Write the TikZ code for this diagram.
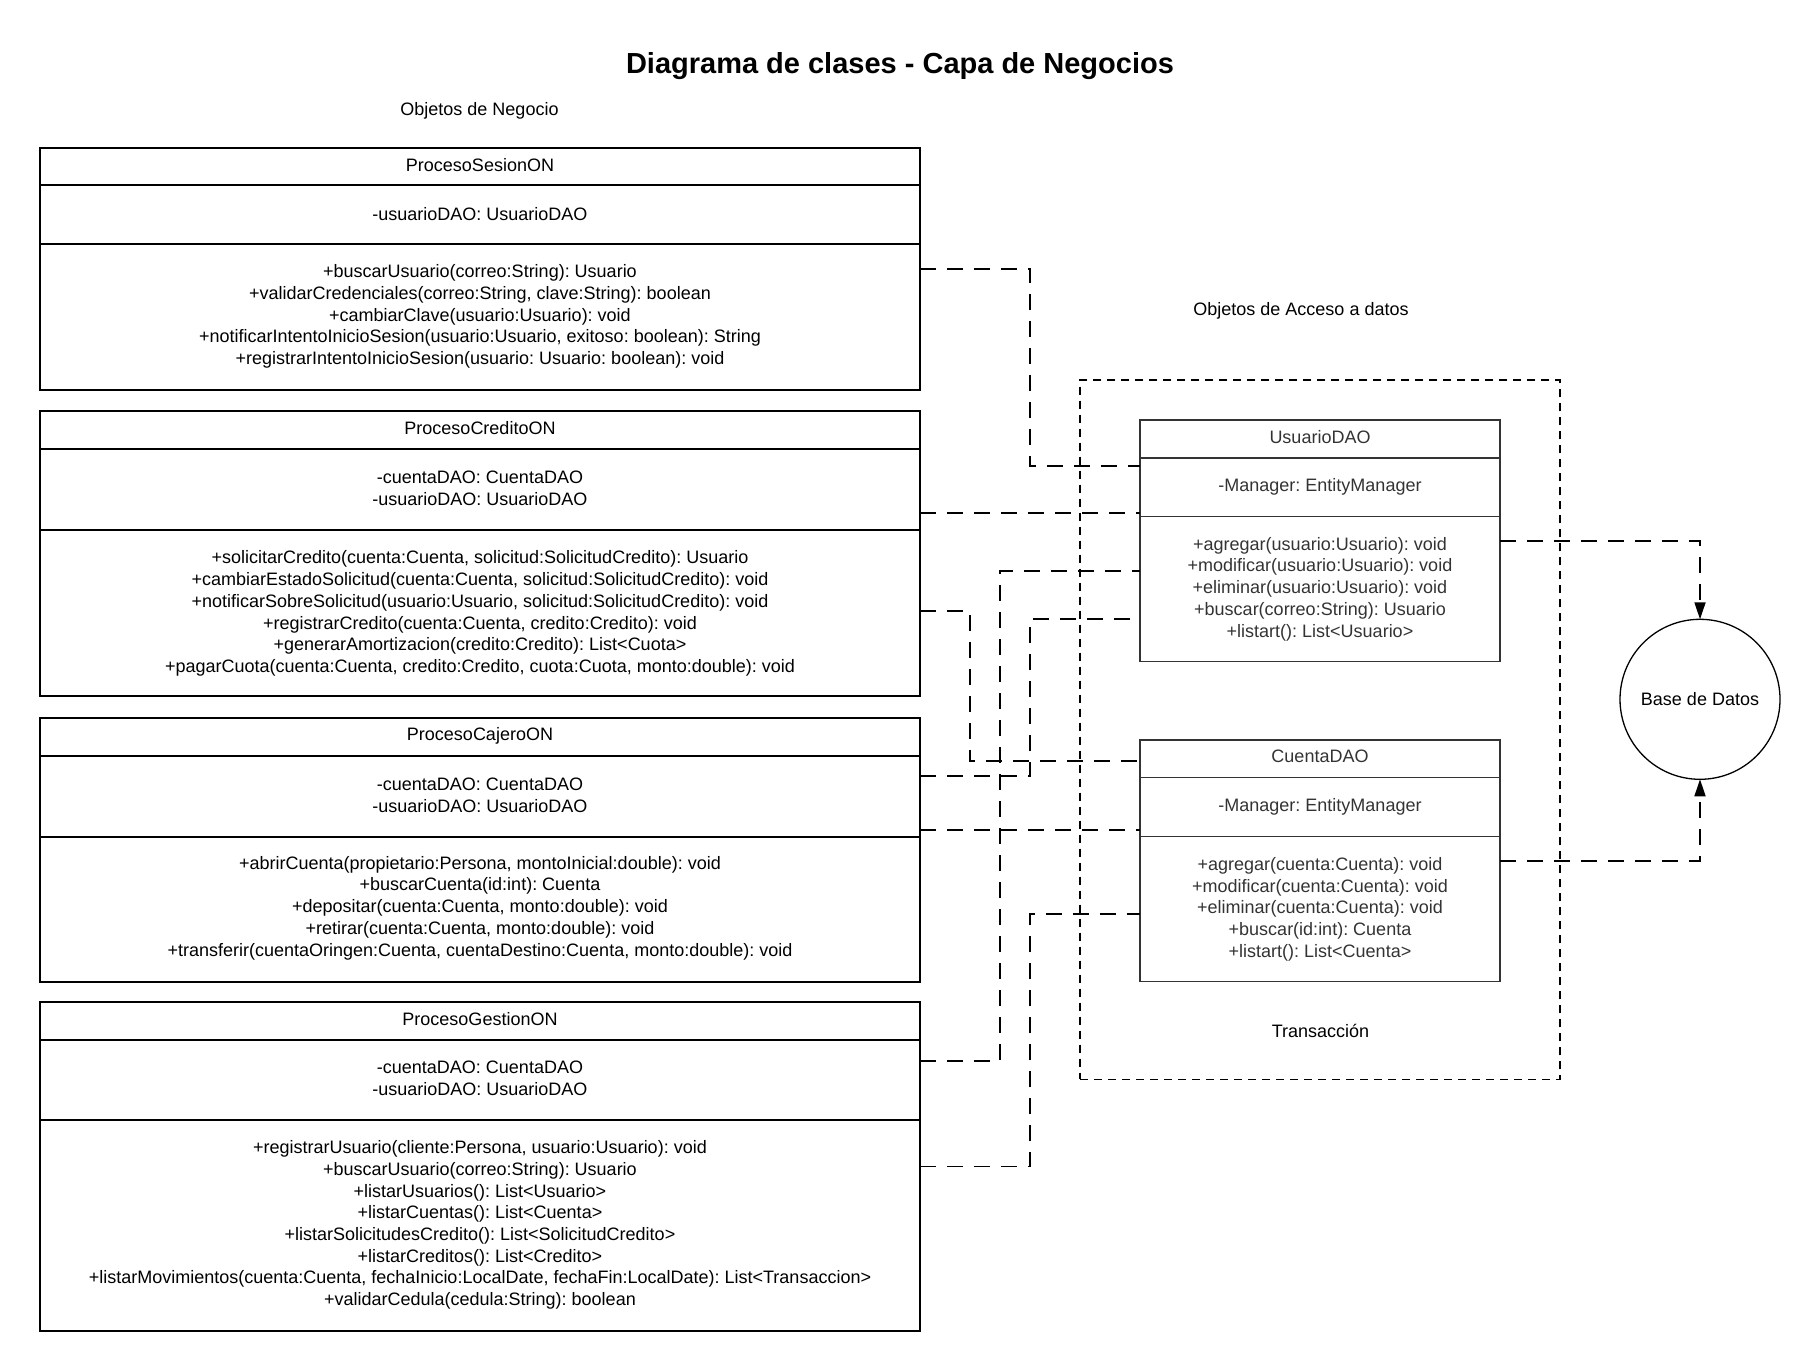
\documentclass[tikz,border=0pt]{standalone}
\usepackage{fontspec}
\setmainfont{Liberation Sans}
\usetikzlibrary{arrows.meta}
\definecolor{daogray}{HTML}{333333}
\frenchspacing
\begin{document}
\frenchspacing
\begin{tikzpicture}[x=1pt,y=-1pt,
  txt/.style={font=\fontsize{18}{21.67}\selectfont\frenchspacing, align=center, inner sep=0pt, anchor=center},
  daotxt/.style={txt, text=daogray},
  onbox/.style={draw=black, line width=1.7pt, inner sep=0pt, outer sep=0pt, minimum width=880pt},
  onsep/.style={draw=black, line width=1.7pt},
  daobox/.style={draw=daogray, line width=1.5pt, inner sep=0pt, outer sep=0pt, minimum width=360pt, minimum height=241.7pt},
  daosep/.style={draw=daogray, line width=1.5pt},
  conn/.style={draw=black, line width=1.7pt, dash pattern=on 16pt off 11pt},
  connarrow/.style={conn, -{Triangle[length=17pt,width=11pt]}},
  tranbox/.style={draw=black, line width=1.3pt, dash pattern=on 8pt off 6pt, inner sep=0pt, outer sep=0pt},
]
\useasboundingbox (0,0) rectangle (1820,1371);

% titles
\node[font=\fontsize{29}{33}\selectfont\bfseries, inner sep=0pt] (title) at (900,66) {Diagrama de clases - Capa de Negocios};
\node[txt] (objneg) at (479.5,111) {Objetos de Negocio};
\node[txt] (objacc) at (1301,311) {Objetos de Acceso a datos};

% transaction container
\node[tranbox, minimum width=480pt, minimum height=699.3pt] (tran) at (1320,729.65) {};
\node[txt] (trantxt) at (1320.5,1031) {Transacción};

% ---------- ProcesoSesionON
\node[onbox, minimum height=242.3pt] (sesion) at (480,268.85) {};
\draw[onsep] (sesion.west |- 0,185) -- (sesion.east |- 0,185);
\draw[onsep] (sesion.west |- 0,244) -- (sesion.east |- 0,244);
\node[txt] (sesionT) at (480,165) {ProcesoSesionON};
\node[txt] (sesionA) at (480,214) {-usuarioDAO: UsuarioDAO};
\node[txt] (sesionM) at (480,316.5) {+buscarUsuario(correo:String): Usuario\\
+validarCredenciales(correo:String, clave:String): boolean\\
+cambiarClave(usuario:Usuario): void\\
+notificarIntentoInicioSesion(usuario:Usuario, exitoso: boolean): String\\
+registrarIntentoInicioSesion(usuario: Usuario: boolean): void};

% ---------- ProcesoCreditoON
\node[onbox, minimum height=285pt] (credito) at (480,553.5) {};
\draw[onsep] (credito.west |- 0,449.3) -- (credito.east |- 0,449.3);
\draw[onsep] (credito.west |- 0,530) -- (credito.east |- 0,530);
\node[txt] (creditoT) at (480,428.5) {ProcesoCreditoON};
\node[txt] (creditoA) at (480,488) {-cuentaDAO: CuentaDAO\\-usuarioDAO: UsuarioDAO};
\node[txt] (creditoM) at (480,613.5) {+solicitarCredito(cuenta:Cuenta, solicitud:SolicitudCredito): Usuario\\
+cambiarEstadoSolicitud(cuenta:Cuenta, solicitud:SolicitudCredito): void\\
+notificarSobreSolicitud(usuario:Usuario, solicitud:SolicitudCredito): void\\
+registrarCredito(cuenta:Cuenta, credito:Credito): void\\
+generarAmortizacion(credito:Credito): List<Cuota>\\
+pagarCuota(cuenta:Cuenta, credito:Credito, cuota:Cuota, monto:double): void};

% ---------- ProcesoCajeroON
\node[onbox, minimum height=264pt] (cajero) at (480,849.7) {};
\draw[onsep] (cajero.west |- 0,756) -- (cajero.east |- 0,756);
\draw[onsep] (cajero.west |- 0,836.7) -- (cajero.east |- 0,836.7);
\node[txt] (cajeroT) at (480,735.5) {ProcesoCajeroON};
\node[txt] (cajeroA) at (480,795) {-cuentaDAO: CuentaDAO\\-usuarioDAO: UsuarioDAO};
\node[txt] (cajeroM) at (480,908) {+abrirCuenta(propietario:Persona, montoInicial:double): void\\
+buscarCuenta(id:int): Cuenta\\
+depositar(cuenta:Cuenta, monto:double): void\\
+retirar(cuenta:Cuenta, monto:double): void\\
+transferir(cuentaOringen:Cuenta, cuentaDestino:Cuenta, monto:double): void};

% ---------- ProcesoGestionON
\node[onbox, minimum height=329.3pt] (gestion) at (480,1166.35) {};
\draw[onsep] (gestion.west |- 0,1040) -- (gestion.east |- 0,1040);
\draw[onsep] (gestion.west |- 0,1120) -- (gestion.east |- 0,1120);
\node[txt] (gestionT) at (480,1019.5) {ProcesoGestionON};
\node[txt] (gestionA) at (480,1078) {-cuentaDAO: CuentaDAO\\-usuarioDAO: UsuarioDAO};
\node[txt] (gestionM) at (480,1225) {+registrarUsuario(cliente:Persona, usuario:Usuario): void\\
+buscarUsuario(correo:String): Usuario\\
+listarUsuarios(): List<Usuario>\\
+listarCuentas(): List<Cuenta>\\
+listarSolicitudesCredito(): List<SolicitudCredito>\\
+listarCreditos(): List<Credito>\\
+listarMovimientos(cuenta:Cuenta, fechaInicio:LocalDate, fechaFin:LocalDate): List<Transaccion>\\
+validarCedula(cedula:String): boolean};

% ---------- UsuarioDAO
\node[daobox] (usuario) at (1320,540.85) {};
\draw[daosep] (usuario.west |- 0,458) -- (usuario.east |- 0,458);
\draw[daosep] (usuario.west |- 0,516.7) -- (usuario.east |- 0,516.7);
\node[daotxt] (usuarioT) at (1320,437) {UsuarioDAO};
\node[daotxt] (usuarioA) at (1320,487) {-Manager: EntityManager};
\node[daotxt] (usuarioM) at (1320,589) {+agregar(usuario:Usuario): void\\
+modificar(usuario:Usuario): void\\
+eliminar(usuario:Usuario): void\\
+buscar(correo:String): Usuario\\
+listart(): List<Usuario>};

% ---------- CuentaDAO
\node[daobox] (cuenta) at (1320,860.85) {};
\draw[daosep] (cuenta.west |- 0,777.7) -- (cuenta.east |- 0,777.7);
\draw[daosep] (cuenta.west |- 0,836.7) -- (cuenta.east |- 0,836.7);
\node[daotxt] (cuentaT) at (1320,756.5) {CuentaDAO};
\node[daotxt] (cuentaA) at (1320,807) {-Manager: EntityManager};
\node[daotxt] (cuentaM) at (1320,909) {+agregar(cuenta:Cuenta): void\\
+modificar(cuenta:Cuenta): void\\
+eliminar(cuenta:Cuenta): void\\
+buscar(id:int): Cuenta\\
+listart(): List<Cuenta>};

% ---------- Base de Datos
\node[draw=black, circle, line width=1.3pt, minimum size=160pt, inner sep=0pt, outer sep=0pt, font=\fontsize{18}{21.67}\selectfont] (db) at (1700,699.3) {Base de Datos};

% ---------- connectors
\draw[conn] (sesion.east) -| (1030,466) -- (usuario.west |- 0,466);
\draw[conn] (credito.east |- 0,513) -- (usuario.west |- 0,513);
\draw[conn] (credito.east |- 0,611) -| (970,761) -- (cuenta.west |- 0,761);
\draw[conn] (cajero.east |- 0,776) -| (1030,619.3) -- (usuario.west |- 0,619.3);
\draw[conn] (cajero.east |- 0,830) -- (cuenta.west |- 0,830);
\draw[conn] (gestion.east |- 0,1060.7) -| (1000,571) -- (usuario.west |- 0,571);
\draw[conn] (gestion.east) -| (1030,914) -- (cuenta.west |- 0,914);
\draw[connarrow] (usuario.east) -| (db.north);
\draw[connarrow] (cuenta.east) -| (db.south);
\end{tikzpicture}
\end{document}
